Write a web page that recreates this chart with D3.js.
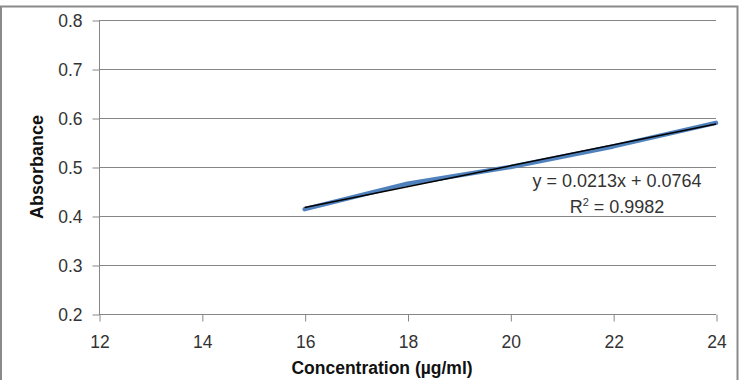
<!DOCTYPE html>
<html>
<head>
<meta charset="utf-8">
<script src="https://cdn.jsdelivr.net/npm/d3@7"></script>
<style>
  html, body { margin: 0; padding: 0; background: #fff; }
  svg { display: block; }
</style>
</head>
<body>
<svg id="chart" width="743" height="380"></svg>
<script>
// ---- data ----
const concentrations = [16, 18, 20, 22, 24];
const absorbances = [0.414, 0.466, 0.500, 0.542, 0.590];
const xTicks = [12, 14, 16, 18, 20, 22, 24];
const yTicks = [0.2, 0.3, 0.4, 0.5, 0.6, 0.7, 0.8];
const trendSlope = 0.0213;
const trendIntercept = 0.0764;
const equationText = "y = 0.0213x + 0.0764";
const r2Value = "0.9982";
const xTitle = "Concentration (µg/ml)";
const yTitle = "Absorbance";

const svg = d3.select("#chart");
const font = "'Liberation Sans', Arial, sans-serif";
const gridColor = "#868686";
const textColor = "#333333";

// outer chart border
svg.append("rect")
  .attr("x", 1).attr("y", 6.5)
  .attr("width", 736.5).attr("height", 400)
  .attr("fill", "none").attr("stroke", "#8a8a8a").attr("stroke-width", 2);

const x = d3.scaleLinear().domain([12, 24]).range([99, 716]);
const y = d3.scaleLinear().domain([0.2, 0.8]).range([314, 20]);

// gridlines
svg.append("g").selectAll("line").data(yTicks).join("line")
  .attr("x1", x(12)).attr("x2", x(24))
  .attr("y1", d => Math.round(y(d)) + 0.5).attr("y2", d => Math.round(y(d)) + 0.5)
  .attr("stroke", gridColor).attr("stroke-width", 1);

// y axis
const yAxis = d3.axisLeft(y).tickValues(yTicks).tickSize(7).tickPadding(10)
  .tickFormat(d3.format(".1f"));
const gy = svg.append("g").attr("transform", `translate(${x(12) + 0.5},0.5)`).call(yAxis);
gy.select(".domain").attr("stroke", gridColor).attr("d", `M0,${y(0.8)}V${y(0.2)}`);
gy.selectAll(".tick line").attr("stroke", gridColor);
gy.selectAll(".tick text").attr("fill", textColor)
  .style("font-family", font).style("font-size", "17.5px");

// x axis
const xAxis = d3.axisBottom(x).tickValues(xTicks).tickSize(7).tickPadding(14)
  .tickFormat(d3.format("d"));
const gx = svg.append("g").attr("transform", `translate(0.5,${Math.round(y(0.2)) + 0.5})`).call(xAxis);
gx.select(".domain").remove();
gx.selectAll(".tick line").attr("stroke", gridColor);
gx.selectAll(".tick text").attr("fill", textColor)
  .style("font-family", font).style("font-size", "17.5px");

// data line
const pts = concentrations.map((c, i) => [c, absorbances[i]]);
svg.append("path")
  .datum(pts)
  .attr("fill", "none")
  .attr("stroke", "#4f81bd")
  .attr("stroke-width", 4.5)
  .attr("stroke-linecap", "round")
  .attr("stroke-linejoin", "round")
  .attr("d", d3.line().x(d => x(d[0])).y(d => y(d[1])));

// linear trendline
const xMin = d3.min(concentrations), xMax = d3.max(concentrations);
svg.append("line")
  .attr("x1", x(xMin)).attr("y1", y(trendSlope * xMin + trendIntercept))
  .attr("x2", x(xMax)).attr("y2", y(trendSlope * xMax + trendIntercept))
  .attr("stroke", "#000").attr("stroke-width", 1.5);

// equation label
svg.append("text")
  .attr("x", 617).attr("y", 186.5)
  .attr("text-anchor", "middle")
  .attr("fill", textColor)
  .style("font-family", font).style("font-size", "18px")
  .text(equationText);
const r2 = svg.append("text")
  .attr("x", 617).attr("y", 213)
  .attr("text-anchor", "middle")
  .attr("fill", textColor)
  .style("font-family", font).style("font-size", "18px");
r2.append("tspan").text("R");
r2.append("tspan").attr("dy", -7).style("font-size", "11px").text("2");
r2.append("tspan").attr("dy", 7).text(" = " + r2Value);

// axis titles
svg.append("text")
  .attr("x", 382).attr("y", 374)
  .attr("text-anchor", "middle")
  .attr("fill", "#111")
  .style("font-family", font).style("font-size", "17.5px").style("font-weight", "bold")
  .text(xTitle);

svg.append("text")
  .attr("transform", "translate(43,167) rotate(-90)")
  .attr("text-anchor", "middle")
  .attr("fill", "#111")
  .style("font-family", font).style("font-size", "18px").style("font-weight", "bold")
  .text(yTitle);
</script>
</body>
</html>
